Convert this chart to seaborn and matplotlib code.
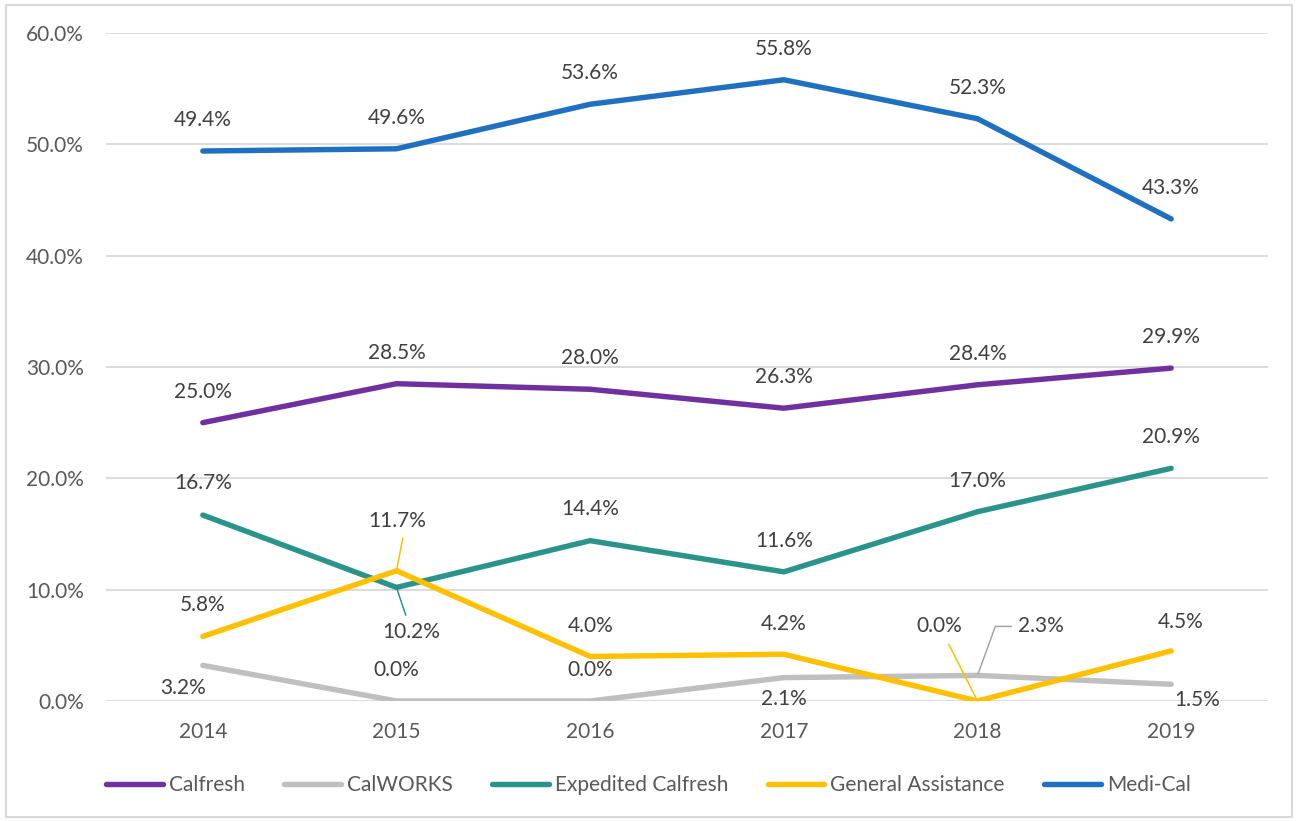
import pandas as pd
import matplotlib.pyplot as plt
import seaborn as sns
from matplotlib.patches import Rectangle

years = ['2014', '2015', '2016', '2017', '2018', '2019']
series_names = ['Calfresh', 'CalWORKS', 'Expedited Calfresh', 'General Assistance', 'Medi-Cal']
calfresh = [25.0, 28.5, 28.0, 26.3, 28.4, 29.9]
calworks = [3.2, 0.0, 0.0, 2.1, 2.3, 1.5]
expedited = [16.7, 10.2, 14.4, 11.6, 17.0, 20.9]
general = [5.8, 11.7, 4.0, 4.2, 0.0, 4.5]
medical = [49.4, 49.6, 53.6, 55.8, 52.3, 43.3]
colors = ['#7030A0', '#BFBFBF', '#2A948A', '#FFC000', '#1F70C1']

sns.set_style('white')
plt.rcParams['font.family'] = ['Lato', 'DejaVu Sans']

rows = []
for name, vals in zip(series_names, [calfresh, calworks, expedited, general, medical]):
    for y, v in zip(years, vals):
        rows.append({'year': y, 'value': v, 'series': name})
df = pd.DataFrame(rows)

fig = plt.figure(figsize=(12.97, 8.21), dpi=100)
ax = fig.add_axes([106 / 1297, 120 / 821, (1268 - 106) / 1297, (701 - 33) / 821])
sns.lineplot(data=df, x='year', y='value', hue='series', palette=colors,
             linewidth=3.9, ax=ax, legend=False, sort=False)

ax.set_xlim(-0.5, 5.5)
ax.set_ylim(0, 60)
ax.set_yticks(range(0, 61, 10))
ax.set_yticklabels([f'{t:.1f}%' for t in range(0, 61, 10)])
ax.yaxis.grid(True, color='#D9D9D9', linewidth=1.3)
ax.set_axisbelow(True)
for s in ax.spines.values():
    s.set_visible(False)
ax.tick_params(axis='both', length=0, labelsize=15, labelcolor='#595959')
ax.tick_params(axis='y', pad=16)
ax.tick_params(axis='x', pad=15)
ax.set_xlabel('')
ax.set_ylabel('')

lab = dict(fontsize=15, color='#404040', ha='center', va='center',
           textcoords='offset pixels')

# default: label above the point
offsets = {name: [(0, 31)] * 6 for name in series_names}
offsets['CalWORKS'] = [(-20, -23), (0, 31), (0, 31), (0, -21), (63, 49), (26, -16)]
offsets['Expedited Calfresh'] = [(0, 32), (15, -45), (0, 32), (0, 31), (0, 31), (0, 31)]
offsets['General Assistance'] = [(0, 31), (1, 50), (0, 30), (0, 30), (-38, 75), (9, 29)]

leaders = {
    ('Expedited Calfresh', 1): dict(arrowstyle='-', color='#2A948A', lw=1.1, shrinkA=3, shrinkB=2),
    ('General Assistance', 1): dict(arrowstyle='-', color='#FFC000', lw=1.1, shrinkA=3, shrinkB=0,
                                    relpos=(0.65, 0.5)),
    ('General Assistance', 4): dict(arrowstyle='-', color='#FFC000', lw=1.1, shrinkA=4, shrinkB=0),
    ('CalWORKS', 4): dict(arrowstyle='-', color='#A6A6A6', lw=1.1, shrinkA=2, shrinkB=1,
                          relpos=(0, 0.5), connectionstyle='angle,angleA=180,angleB=70,rad=0'),
}

for name, vals in zip(series_names, [calfresh, calworks, expedited, general, medical]):
    for i, v in enumerate(vals):
        kw = dict(lab)
        if (name, i) in leaders:
            kw['arrowprops'] = leaders[(name, i)]
        ax.annotate(f'{v:.1f}%', xy=(i, v), xytext=offsets[name][i], **kw)

handles = [plt.Line2D([], [], color=c, lw=3.9, solid_capstyle='round') for c in colors]
fig.legend(handles, series_names, loc='center', bbox_to_anchor=(0.5, 36 / 821),
           ncol=5, frameon=False, fontsize=15, handlelength=2.7, columnspacing=1.9,
           handletextpad=0.3, labelcolor='#595959')

fig.patches.append(Rectangle((6 / 1297, 4 / 821), 1286 / 1297, 812 / 821,
                             transform=fig.transFigure, fill=False,
                             edgecolor='#D9D9D9', linewidth=1.5))

fig.savefig('out.png', dpi=100)
